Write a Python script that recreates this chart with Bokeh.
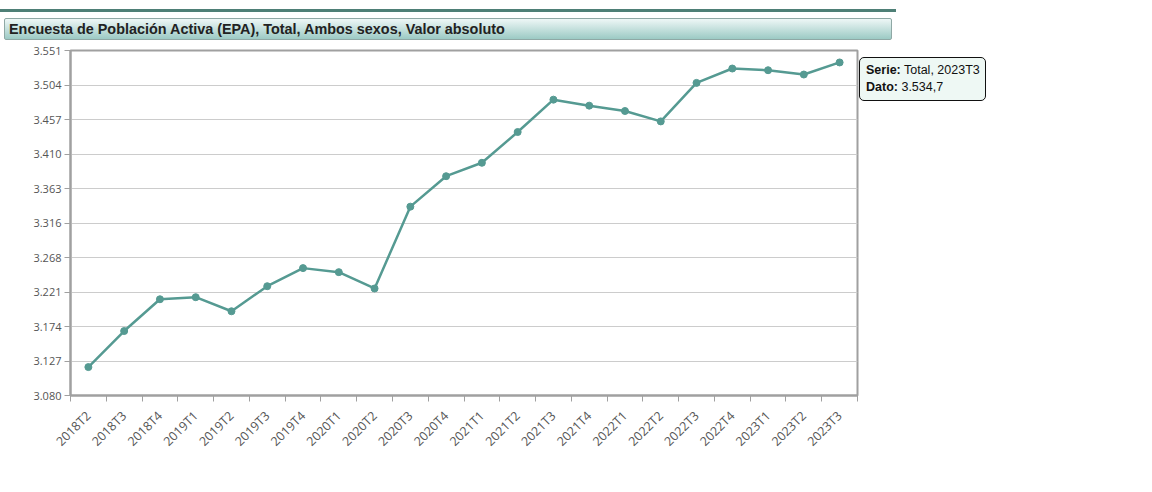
import math
import numpy as np
from bokeh.plotting import figure
from bokeh.models import FixedTicker, Range1d, Div
from bokeh.layouts import column, row
from bokeh.embed import file_html
from bokeh.resources import INLINE

title = "Encuesta de Población Activa (EPA), Total, Ambos sexos, Valor absoluto"
series_name = "Total"
categories = ["2018T2", "2018T3", "2018T4", "2019T1", "2019T2", "2019T3", "2019T4",
              "2020T1", "2020T2", "2020T3", "2020T4", "2021T1", "2021T2", "2021T3",
              "2021T4", "2022T1", "2022T2", "2022T3", "2022T4", "2023T1", "2023T2",
              "2023T3"]
values = [3118.8, 3168.0, 3211.4, 3214.2, 3195.0, 3229.2, 3253.9, 3248.4, 3226.1,
          3337.8, 3379.4, 3397.7, 3439.7, 3483.9, 3475.7, 3468.4, 3454.2, 3506.8,
          3526.4, 3524.1, 3518.2, 3534.7]
y_tick_labels = ["3.080", "3.127", "3.174", "3.221", "3.268", "3.316", "3.363",
                 "3.410", "3.457", "3.504", "3.551"]
y_min, y_max = 3080, 3551

LINE = "#559a92"
GRAY = "#a0a0a0"

n = len(categories)
x = [i + 0.5 for i in range(n)]
y_ticks = [float(v) for v in np.linspace(y_min, y_max, len(y_tick_labels))]

p = figure(width=859, height=442, x_range=Range1d(0, n), y_range=Range1d(y_min, y_max),
           output_backend="svg", toolbar_location=None,
           min_border_left=70, min_border_right=2, min_border_top=8, min_border_bottom=89,
           margin=(0, 0, 0, 0))
p.background_fill_color = "white"
p.border_fill_color = "white"
p.outline_line_color = GRAY
p.outline_line_width = 2

p.xgrid.visible = False
p.ygrid.grid_line_color = "#cccccc"
p.ygrid.grid_line_width = 1

yax = p.yaxis[0]
yax.ticker = FixedTicker(ticks=y_ticks)
yax.major_label_overrides = {t: l for t, l in zip(y_ticks, y_tick_labels)}
yax.major_label_text_font = "Open Sans"
yax.major_label_text_font_size = "11px"
yax.major_label_text_color = "#555555"
yax.major_label_standoff = 3
yax.major_tick_in = 0
yax.major_tick_out = 6
yax.major_tick_line_color = GRAY
yax.minor_tick_line_color = None
yax.axis_line_color = GRAY
yax.axis_line_width = 2

xax = p.xaxis[0]
xax.ticker = FixedTicker(ticks=x, minor_ticks=list(range(n + 1)))
xax.major_label_overrides = {t: c for t, c in zip(x, categories)}
xax.major_label_orientation = math.pi / 4
xax.major_label_text_font = "Open Sans"
xax.major_label_text_font_size = "12.5px"
xax.major_label_text_color = "#555555"
xax.major_label_standoff = 12
xax.major_tick_line_color = None
xax.minor_tick_in = 0
xax.minor_tick_out = 6
xax.minor_tick_line_color = GRAY
xax.axis_line_color = GRAY
xax.axis_line_width = 2

p.line(x, values, line_color=LINE, line_width=2.5)
p.scatter(x, values, size=7, fill_color=LINE, line_color=LINE)

title_html = (
    '<div style="position:relative;width:1152px;height:42px;">'
    '<div style="position:absolute;left:0;top:9px;width:896px;height:3px;background:#4e7f76;"></div>'
    '<div style="position:absolute;left:4px;top:18px;width:888px;height:22px;box-sizing:border-box;'
    'border:1px solid #8fa8a5;border-radius:2px;'
    'background:linear-gradient(to bottom,#eef7f6,#9ccac4);'
    "font:bold 14.4px 'Liberation Sans',Arial,sans-serif;color:#222;line-height:20px;"
    'padding-left:4px;white-space:nowrap;">' + title + '</div></div>'
)
title_div = Div(text=title_html, width=1152, height=42, margin=(0, 0, 0, 0))

last_val = f"{values[-1]:,.1f}".replace(",", "X").replace(".", ",").replace("X", ".")
tip_html = (
    '<div style="margin-top:15px;width:127px;height:44px;box-sizing:border-box;'
    'border:1px solid #111;border-radius:5px;'
    'background:#eef8f4;padding:4px 5px 4px 6px;'
    "font:12.5px 'Liberation Sans',Arial,sans-serif;color:#111;line-height:17px;"
    'white-space:nowrap;">'
    f'<b>Serie:</b> {series_name}, {categories[-1]}<br><b>Dato:</b> {last_val}</div>'
)
tip_div = Div(text=tip_html, width=150, height=80, margin=(0, 0, 0, 0))

layout = column(title_div, row(p, tip_div))
open("out.html", "w").write(file_html(layout, INLINE))
